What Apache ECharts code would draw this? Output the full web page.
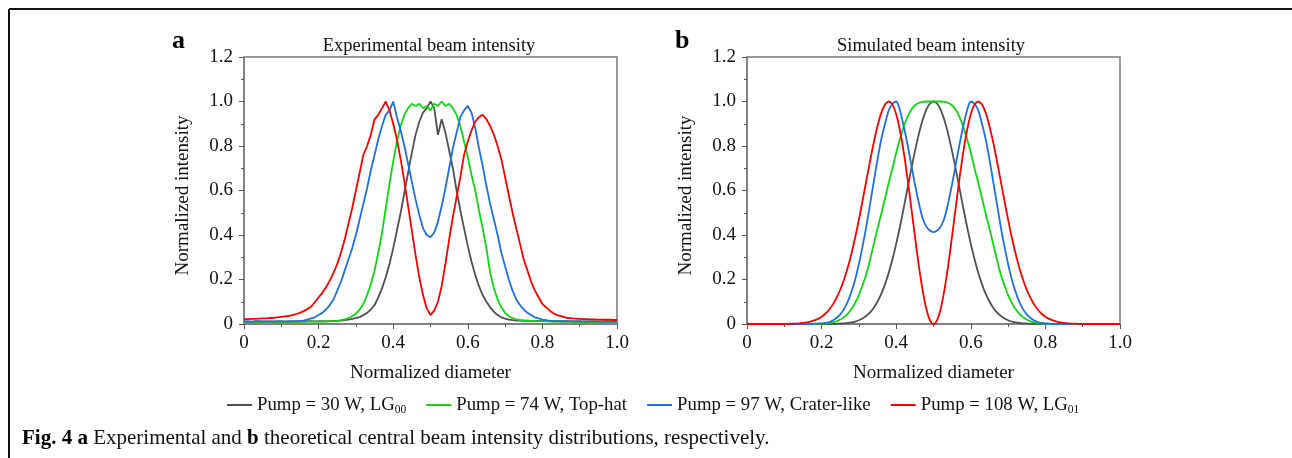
<!DOCTYPE html>
<html>
<head>
<meta charset="utf-8">
<script src="https://cdn.jsdelivr.net/npm/echarts@6/dist/echarts.min.js"></script>
<style>
html,body{margin:0;padding:0;background:#fff;}
#c{width:1292px;height:458px;}
</style>
</head>
<body>
<div id="c"></div>
<script>
// ---- data ----
var xs = [0,0.01,0.02,0.03,0.04,0.05,0.06,0.07,0.08,0.09,
0.1,0.11,0.12,0.13,0.14,0.15,0.16,0.17,0.18,0.19,
0.2,0.21,0.22,0.23,0.24,0.25,0.26,0.27,0.28,0.29,
0.3,0.31,0.32,0.33,0.34,0.35,0.36,0.37,0.38,0.39,
0.4,0.41,0.42,0.43,0.44,0.45,0.46,0.47,0.48,0.49,
0.5,0.51,0.52,0.53,0.54,0.55,0.56,0.57,0.58,0.59,
0.6,0.61,0.62,0.63,0.64,0.65,0.66,0.67,0.68,0.69,
0.7,0.71,0.72,0.73,0.74,0.75,0.76,0.77,0.78,0.79,
0.8,0.81,0.82,0.83,0.84,0.85,0.86,0.87,0.88,0.89,
0.9,0.91,0.92,0.93,0.94,0.95,0.96,0.97,0.98,0.99,
1.0];

var seriesNames = ['Pump = 30 W, LG00', 'Pump = 74 W, Top-hat', 'Pump = 97 W, Crater-like', 'Pump = 108 W, LG01'];
var legendMain = ['Pump = 30 W, LG', 'Pump = 74 W, Top-hat', 'Pump = 97 W, Crater-like', 'Pump = 108 W, LG'];
var legendSub = ['00', '', '', '01'];
var colors = ['#505050', '#14d214', '#1f6fdc', '#f50000'];

var xTicks = [0, 0.2, 0.4, 0.6, 0.8, 1.0];
var yTicks = [0, 0.2, 0.4, 0.6, 0.8, 1.0, 1.2];

// experimental (panel a)
var expBlack = [0.010,0.011,0.010,0.012,0.011,0.010,0.011,0.012,0.010,0.011,
0.012,0.011,0.010,0.012,0.011,0.012,0.011,0.012,0.013,0.012,
0.012,0.013,0.012,0.013,0.014,0.014,0.015,0.018,0.020,0.023,
0.026,0.031,0.040,0.050,0.065,0.085,0.120,0.160,0.210,0.270,
0.340,0.420,0.500,0.590,0.680,0.770,0.850,0.910,0.950,0.970,
1.000,0.970,0.850,0.920,0.860,0.780,0.700,0.600,0.510,0.430,
0.350,0.280,0.220,0.170,0.130,0.100,0.075,0.055,0.040,0.030,
0.024,0.020,0.017,0.015,0.015,0.014,0.015,0.014,0.013,0.014,
0.013,0.014,0.013,0.012,0.013,0.012,0.013,0.012,0.012,0.011,
0.012,0.011,0.012,0.011,0.012,0.011,0.011,0.012,0.011,0.011,
0.011];
var expGreen = [0.010,0.011,0.010,0.011,0.010,0.011,0.010,0.011,0.011,0.010,
0.011,0.010,0.011,0.011,0.010,0.011,0.011,0.012,0.011,0.011,
0.012,0.011,0.012,0.012,0.013,0.014,0.017,0.021,0.027,0.035,
0.047,0.065,0.090,0.130,0.180,0.240,0.320,0.410,0.520,0.630,
0.730,0.820,0.890,0.940,0.970,0.990,0.980,0.990,0.970,0.980,
0.960,0.990,0.980,1.000,0.980,0.990,0.970,0.940,0.890,0.820,
0.750,0.670,0.600,0.510,0.430,0.340,0.230,0.160,0.110,0.075,
0.050,0.035,0.026,0.021,0.018,0.016,0.015,0.014,0.013,0.013,
0.012,0.012,0.011,0.012,0.011,0.011,0.012,0.011,0.011,0.010,
0.011,0.010,0.011,0.010,0.011,0.010,0.010,0.011,0.010,0.010,
0.010];
var expBlue = [0.012,0.012,0.011,0.012,0.013,0.012,0.012,0.011,0.012,0.013,
0.012,0.012,0.013,0.012,0.013,0.013,0.015,0.020,0.025,0.030,
0.040,0.050,0.065,0.085,0.110,0.150,0.190,0.240,0.290,0.340,
0.400,0.470,0.540,0.610,0.690,0.760,0.830,0.890,0.940,0.960,
1.000,0.930,0.870,0.800,0.720,0.640,0.560,0.490,0.430,0.400,
0.390,0.410,0.460,0.530,0.610,0.700,0.790,0.860,0.930,0.960,
0.980,0.950,0.880,0.790,0.710,0.620,0.540,0.470,0.400,0.320,
0.260,0.200,0.150,0.110,0.085,0.065,0.050,0.040,0.030,0.025,
0.020,0.017,0.014,0.013,0.013,0.012,0.013,0.012,0.012,0.013,
0.012,0.012,0.011,0.012,0.012,0.011,0.012,0.011,0.011,0.012,
0.011];
var expRed = [0.022,0.022,0.023,0.023,0.024,0.025,0.025,0.027,0.028,0.030,
0.032,0.034,0.036,0.040,0.045,0.050,0.058,0.067,0.078,0.098,
0.120,0.140,0.165,0.195,0.230,0.270,0.320,0.380,0.450,0.520,
0.600,0.680,0.760,0.800,0.850,0.920,0.940,0.970,1.000,0.960,
0.900,0.830,0.740,0.640,0.530,0.420,0.310,0.210,0.130,0.070,
0.040,0.060,0.100,0.170,0.270,0.380,0.480,0.570,0.660,0.760,
0.820,0.870,0.910,0.930,0.940,0.920,0.890,0.850,0.800,0.740,
0.660,0.580,0.500,0.430,0.360,0.290,0.240,0.190,0.150,0.120,
0.090,0.075,0.060,0.048,0.040,0.035,0.030,0.027,0.025,0.024,
0.023,0.022,0.022,0.021,0.021,0.020,0.020,0.019,0.019,0.018,
0.018];

// simulated (panel b)
var simBlack = [0,0,0,0,0,0,0,0,0,0,
0,0,0,0,0,0,0,0,0,0,
0,0,0,0.001,0.001,0.002,0.003,0.005,0.007,0.011,
0.017,0.025,0.037,0.052,0.073,0.101,0.135,0.178,0.230,0.291,
0.360,0.437,0.520,0.607,0.693,0.775,0.849,0.912,0.960,0.990,
1.000,0.990,0.960,0.912,0.849,0.775,0.693,0.607,0.520,0.437,
0.360,0.291,0.230,0.178,0.135,0.101,0.073,0.052,0.037,0.025,
0.017,0.011,0.007,0.005,0.003,0.002,0.001,0.001,0,0,
0,0,0,0,0,0,0,0,0,0,
0,0,0,0,0,0,0,0,0,0,
0];
var simGreen = [0,0,0,0,0,0,0,0,0,0,
0,0,0,0,0,0,0,0,0,0,
0.001,0.002,0.004,0.007,0.012,0.020,0.031,0.046,0.067,0.095,
0.130,0.175,0.225,0.290,0.360,0.430,0.495,0.565,0.635,0.700,
0.770,0.830,0.885,0.930,0.962,0.982,0.993,0.998,1.000,1.000,
1.000,1.000,1.000,0.998,0.993,0.982,0.962,0.930,0.885,0.830,
0.770,0.700,0.635,0.565,0.495,0.430,0.360,0.290,0.225,0.175,
0.130,0.095,0.067,0.046,0.031,0.020,0.012,0.007,0.004,0.002,
0.001,0,0,0,0,0,0,0,0,0,
0,0,0,0,0,0,0,0,0,0,
0];
var simBlue = [0,0,0,0,0,0,0,0,0,0,
0,0,0,0,0,0,0,0,0.001,0.002,
0.003,0.005,0.009,0.016,0.027,0.043,0.067,0.100,0.145,0.200,
0.270,0.350,0.440,0.540,0.640,0.740,0.830,0.900,0.960,0.990,
1.000,0.960,0.890,0.810,0.720,0.630,0.550,0.480,0.440,0.420,
0.413,0.420,0.440,0.480,0.550,0.630,0.720,0.810,0.890,0.960,
1.000,0.990,0.960,0.900,0.830,0.740,0.640,0.540,0.440,0.350,
0.270,0.200,0.145,0.100,0.067,0.043,0.027,0.016,0.009,0.005,
0.003,0.002,0.001,0,0,0,0,0,0,0,
0,0,0,0,0,0,0,0,0,0,
0];
var simRed = [0,0,0,0,0,0,0,0,0,0,
0.0005,0.0008,0.0013,0.002,0.003,0.0047,0.007,0.011,0.016,0.023,
0.033,0.046,0.064,0.087,0.117,0.154,0.199,0.253,0.317,0.389,
0.469,0.556,0.645,0.733,0.817,0.890,0.949,0.986,1.000,0.986,
0.943,0.871,0.775,0.658,0.529,0.397,0.270,0.160,0.073,0.019,
0,0.019,0.073,0.160,0.270,0.397,0.529,0.658,0.775,0.871,
0.943,0.986,1.000,0.986,0.949,0.890,0.817,0.733,0.645,0.556,
0.469,0.389,0.317,0.253,0.199,0.154,0.117,0.087,0.064,0.046,
0.033,0.023,0.016,0.011,0.007,0.0047,0.003,0.002,0.0013,0.0008,
0.0005,0,0,0,0,0,0,0,0,0,
0];

var expSeries = [expBlack, expGreen, expBlue, expRed];
var simSeries = [simBlack, simGreen, simBlue, simRed];

// ---- chart ----
var FONT = '"Liberation Serif", "Times New Roman", serif';
var chart = echarts.init(document.getElementById('c'), null, {renderer: 'canvas'});

function fmt(v) { return v === 0 ? '0' : v.toFixed(1); }

function xAxisCfg(gi) {
  return {
    type: 'value', gridIndex: gi, min: xTicks[0], max: xTicks[xTicks.length - 1], interval: 0.2,
    name: 'Normalized diameter', nameLocation: 'middle', nameGap: 40,
    nameTextStyle: {fontFamily: FONT, fontSize: 19, color: '#111'},
    axisLine: {show: true, onZero: false, lineStyle: {color: '#7a7a7a', width: 1.5}},
    axisTick: {show: true, length: 5, lineStyle: {color: '#555', width: 1}},
    minorTick: {show: true, splitNumber: 2, length: 3, lineStyle: {color: '#555', width: 1}},
    axisLabel: {formatter: fmt, margin: 10, fontFamily: FONT, fontSize: 19, color: '#111'},
    splitLine: {show: false}
  };
}
function yAxisCfg(gi) {
  return {
    type: 'value', gridIndex: gi, min: yTicks[0], max: yTicks[yTicks.length - 1], interval: 0.2,
    name: 'Normalized intensity', nameLocation: 'middle', nameGap: 51,
    nameTextStyle: {fontFamily: FONT, fontSize: 19, color: '#111', padding: [0, 10, 0, 0]},
    axisLine: {show: true, onZero: false, lineStyle: {color: '#7a7a7a', width: 1.5}},
    axisTick: {show: true, length: 5, lineStyle: {color: '#555', width: 1}},
    minorTick: {show: true, splitNumber: 2, length: 3, lineStyle: {color: '#555', width: 1}},
    axisLabel: {formatter: fmt, margin: 11, fontFamily: FONT, fontSize: 19, color: '#111'},
    splitLine: {show: false}
  };
}

var series = [];
function addSeries(arrs, gi, smooth) {
  arrs.forEach(function (vals, k) {
    series.push({
      name: seriesNames[k], type: 'line', xAxisIndex: gi, yAxisIndex: gi,
      data: xs.map(function (x, i) { return [x, vals[i]]; }),
      showSymbol: false, symbol: 'none', smooth: smooth, animation: false,
      lineStyle: {color: colors[k], width: 1.8}, itemStyle: {color: colors[k]}
    });
  });
}
addSeries(expSeries, 0, false);
addSeries(simSeries, 1, 0.3);

var legendRich = {
  t: {fontFamily: FONT, fontSize: 18.8, color: '#111', lineHeight: 22},
  s: {fontFamily: FONT, fontSize: 11.5, color: '#111', lineHeight: 22, verticalAlign: 'bottom', padding: [9, 0, 0, 0]}
};

chart.setOption({
  backgroundColor: '#fff',
  animation: false,
  title: [
    {text: 'a', left: 167, top: 23, textStyle: {fontFamily: FONT, fontSize: 26, fontWeight: 'bold', color: '#000'}},
    {text: 'Experimental beam intensity', left: 424, top: 32, textAlign: 'center', textStyle: {fontFamily: FONT, fontSize: 18.5, fontWeight: 'normal', color: '#111'}},
    {text: 'b', left: 670, top: 23, textStyle: {fontFamily: FONT, fontSize: 26, fontWeight: 'bold', color: '#000'}},
    {text: 'Simulated beam intensity', left: 926, top: 32, textAlign: 'center', textStyle: {fontFamily: FONT, fontSize: 18.5, fontWeight: 'normal', color: '#111'}}
  ],
  grid: [
    {left: 244, top: 57, width: 373, height: 267, show: true, borderColor: '#7a7a7a', borderWidth: 1.5, backgroundColor: 'transparent'},
    {left: 747, top: 57, width: 373, height: 267, show: true, borderColor: '#7a7a7a', borderWidth: 1.5, backgroundColor: 'transparent'}
  ],
  xAxis: [xAxisCfg(0), xAxisCfg(1)],
  yAxis: [yAxisCfg(0), yAxisCfg(1)],
  legend: {
    data: seriesNames, left: 222, top: 390, itemGap: 20, itemWidth: 25, itemHeight: 2, icon: 'rect',
    selectedMode: false,
    formatter: function (name) {
      var k = seriesNames.indexOf(name);
      return '{t|' + legendMain[k] + '}' + (legendSub[k] ? '{s|' + legendSub[k] + '}' : '');
    },
    textStyle: {rich: legendRich}
  },
  graphic: [
    {type: 'line', shape: {x1: 9, y1: 9, x2: 1292, y2: 9}, style: {stroke: '#111', lineWidth: 2}, silent: true},
    {type: 'line', shape: {x1: 9, y1: 9, x2: 9, y2: 458}, style: {stroke: '#111', lineWidth: 2}, silent: true},
    {type: 'text', left: 22, top: 428, silent: true,
      style: {
        text: '{b|Fig. 4 a} Experimental and {b|b} theoretical central beam intensity distributions, respectively.',
        fontFamily: FONT, fontSize: 21, fill: '#111',
        rich: {b: {fontFamily: FONT, fontSize: 21, fontWeight: 'bold', fill: '#000'}}
      }
    }
  ],
  series: series
});
</script>
</body>
</html>
